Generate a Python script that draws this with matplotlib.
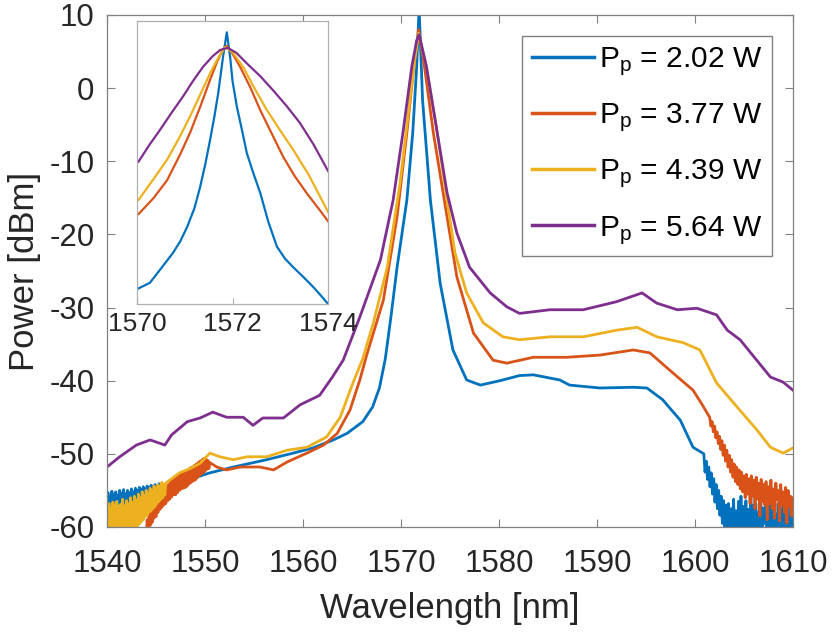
import numpy as np
import matplotlib.pyplot as plt

plt.rcParams['font.family'] = ['Liberation Sans', 'DejaVu Sans']
plt.rcParams['mathtext.fontset'] = 'custom'
plt.rcParams['mathtext.rm'] = 'Liberation Sans'
plt.rcParams['mathtext.it'] = 'Liberation Sans'
plt.rcParams['axes.unicode_minus'] = False

# colores tipo MATLAB
c_blue = '#0072BD'
c_orange = '#D95319'
c_yellow = '#EDB120'
c_purple = '#7E2F8E'

labels = ['P$_\\mathregular{p}$ = 2.02 W', 'P$_\\mathregular{p}$ = 3.77 W',
          'P$_\\mathregular{p}$ = 4.39 W', 'P$_\\mathregular{p}$ = 5.64 W']

# ---- espectro completo ----
# Pp = 2.02 W  (ruido 1540-1545.5, tramo suave, ruido 1600.9-1610)
blue_noise_l = [-56.5, -55.3, -57.6, -55.8, -57.2, -55.1, -57.8, -55.6, -56.9, -55.2,
                -57.4, -55.7, -56.8, -55.0, -57.5, -55.4, -56.6, -54.9, -57.1, -55.5,
                -56.4, -55.0, -56.9, -55.3, -56.2, -54.8, -56.7, -55.2, -56.0, -54.7,
                -56.4, -55.0, -55.8, -54.6, -56.2, -54.9, -55.6, -54.5, -55.9, -54.8,
                -55.4, -54.4, -55.7, -54.6, -55.2, -54.3, -55.4, -54.5, -55.0, -54.2,
                -55.2, -54.4, -54.9, -54.1, -55.0, -54.3]
blue_wl = [1546.1, 1548.2, 1550.5, 1552.9, 1556.3, 1559.0, 1561.0, 1563.1, 1564.5, 1566.1,
           1567.1, 1567.8, 1568.4, 1569.0, 1569.6, 1570.6, 1571.2, 1571.6, 1571.85, 1572.2,
           1573.0, 1574.0, 1575.3, 1576.7, 1578.1, 1580.1, 1582.1, 1583.5, 1586.2, 1587.2,
           1590.3, 1593.7, 1595.1, 1596.7, 1598.5, 1599.8]
blue_p = [-54.5, -53.6, -52.6, -51.8, -50.8, -49.9, -49.2, -48.1, -47.2, -45.6,
          -43.6, -41.0, -37.0, -31.0, -24.5, -15.3, -6.1, 2.9, 11.0, -1.6,
          -15.3, -26.7, -35.8, -39.9, -40.6, -40.0, -39.3, -39.2, -39.9, -40.6,
          -41.0, -40.9, -41.0, -42.6, -45.4, -49.1]
blue_noise_r = [-50.0, -52.5, -51.0, -53.5, -51.8, -54.5, -52.6, -55.5, -53.4, -56.6,
                -54.2, -57.5, -55.0, -58.4, -55.8, -59.5, -56.4, -60.8, -57.0,
                -62.0, -56.8, -61.0, -57.5, -62.5, -56.2, -60.5, -57.8, -62.0, -56.5,
                -61.5, -55.8, -62.5, -57.2, -60.8, -56.4, -62.0, -57.6, -61.2, -55.5,
                -62.5, -57.0, -60.2, -56.8, -62.0, -58.0, -61.5, -56.2, -62.8, -57.4,
                -59.5, -56.6, -62.0, -57.8, -61.0, -56.0, -62.5, -57.2, -60.0, -58.2,
                -62.0, -56.8, -61.5, -57.5, -62.8, -56.4, -60.5, -58.0, -62.0, -57.0,
                -61.5, -58.5, -62.0, -57.4]

# Pp = 3.77 W
orange_noise_l = [-62.0, -60.5, -61.5, -59.0, -60.5, -58.2, -59.8, -57.6, -59.4, -57.0, -58.8, -56.6,
                  -58.6, -56.2, -58.0, -55.8, -57.6, -55.3, -57.3, -55.0, -57.0, -54.6,
                  -56.8, -54.4, -56.4, -54.2, -56.2, -53.8, -55.9, -53.6, -55.6, -53.3,
                  -55.6, -53.2, -55.3, -52.9, -55.0, -52.7, -54.8, -52.6, -54.7, -52.4,
                  -54.6, -52.3, -54.4, -52.1, -54.1, -51.9, -53.9, -51.8, -53.7, -51.6,
                  -53.6, -51.4, -53.3, -51.2, -53.0, -51.0, -52.8, -50.8, -52.6, -50.6,
                  -52.4, -50.7, -52.1, -50.9, -52.0, -51.2]
orange_wl = [1551.2, 1552.2, 1553.6, 1555.6, 1557.0, 1558.4, 1560.4, 1562.1, 1563.5, 1564.8,
             1565.8, 1566.5, 1568.2, 1569.6, 1570.6, 1571.3, 1571.8, 1572.4, 1573.3, 1574.7,
             1575.7, 1577.4, 1579.4, 1580.8, 1583.5, 1586.9, 1590.3, 1593.7, 1595.4, 1597.8,
             1599.8, 1600.7]
orange_p = [-51.8, -52.2, -51.8, -51.8, -52.2, -51.1, -49.9, -48.8, -47.2, -44.0,
            -39.9, -36.5, -29.0, -17.6, -6.1, 2.9, 8.0, 2.9, -6.1, -17.6,
            -25.8, -33.5, -37.2, -37.6, -36.8, -36.8, -36.5, -35.8, -36.2, -39.0,
            -41.3, -43.2]
orange_noise_r = [-45.0, -46.2, -45.6, -47.0, -46.2, -47.8, -47.0, -48.6, -47.6, -49.4,
                  -48.2, -50.2, -48.8, -51.0, -49.5, -51.8, -50.2, -52.5, -50.8, -53.2,
                  -51.4, -53.8, -51.8, -54.2, -52.2,
                  -54.8, -52.5, -55.2, -53.0, -56.0, -52.8, -55.5, -53.4, -56.8, -53.0,
                  -55.8, -53.6, -57.5, -53.2, -56.2, -54.0, -58.5, -53.5, -56.5, -54.2,
                  -57.0, -53.8, -59.0, -54.5, -56.8, -53.6, -57.5, -54.8, -58.8, -54.0,
                  -56.2, -55.0, -59.2, -54.2, -57.0, -55.2, -58.0, -54.6, -59.5, -55.0,
                  -57.2, -55.8, -58.5, -56.0]

# Pp = 4.39 W
yellow_noise_l = [-57.2, -61.0, -56.8, -61.0, -57.5, -61.0, -56.6, -61.0, -57.0, -61.0,
                  -56.5, -61.0, -57.3, -61.0, -56.9, -61.0, -56.2, -61.0, -57.1, -61.0,
                  -56.4, -61.0, -56.8, -61.0, -56.0, -61.0, -56.6, -60.5, -55.8, -60.2,
                  -56.3, -60.0, -55.5, -59.6, -56.0, -59.3, -55.2, -59.0, -55.7, -58.6,
                  -55.0, -58.4, -55.4, -58.0, -54.7, -57.8, -55.1, -57.5, -54.4, -57.2,
                  -54.8, -56.8, -54.2, -56.5, -54.5, -56.2, -53.9, -56.0, -54.2, -55.6,
                  -54.0]
yellow_wl = [1547.4, 1548.5, 1549.5, 1550.5, 1551.5, 1552.9, 1554.3, 1556.3, 1558.4,
             1560.4, 1562.4, 1563.8, 1565.1, 1566.1, 1567.2, 1568.6, 1569.9, 1570.7, 1571.4,
             1571.8, 1572.6, 1573.7, 1574.7, 1575.5, 1576.7, 1578.4, 1580.4, 1582.1, 1585.2,
             1588.6, 1592.0, 1594.1, 1596.1, 1598.8, 1600.5, 1602.2, 1604.3, 1606.3, 1607.7,
             1609.0, 1610.0]
yellow_p = [-52.6, -52.0, -51.3, -49.9, -50.4, -50.8, -50.4, -50.4, -49.5,
            -49.1, -47.7, -45.0, -40.3, -37.0, -32.0, -24.5, -13.0, -4.0, 3.8,
            7.5, 2.9, -6.1, -15.3, -22.5, -28.0, -32.1, -34.0, -34.4, -34.0,
            -34.0, -33.1, -32.7, -34.0, -34.8, -35.8, -40.3, -43.6, -46.7, -49.1,
            -49.9, -49.2]

# Pp = 5.64 W
purple_wl = [1540.0, 1541.3, 1543.0, 1544.4, 1545.9, 1546.6, 1548.2, 1549.5, 1550.8, 1552.2,
             1553.9, 1554.9, 1555.9, 1558.0, 1559.7, 1561.7, 1563.0, 1564.1, 1565.8, 1567.9,
             1569.2, 1570.2, 1571.1, 1571.6, 1571.85, 1572.6, 1573.7, 1574.7, 1575.7, 1577.0,
             1579.1, 1580.8, 1582.1, 1585.2, 1588.6, 1592.0, 1594.6, 1596.1, 1598.2, 1600.2,
             1602.2, 1603.3, 1604.6, 1606.3, 1607.7, 1609.0, 1610.0]
purple_p = [-51.8, -50.4, -48.8, -48.1, -48.8, -47.4, -45.6, -45.1, -44.3, -45.0,
            -45.0, -46.1, -45.1, -45.1, -43.3, -42.0, -39.5, -37.2, -31.3, -23.5,
            -15.3, -6.1, 2.9, 6.5, 7.3, 2.9, -6.1, -14.3, -19.8, -24.5,
            -28.0, -29.9, -30.8, -30.3, -30.3, -29.2, -28.0, -29.4, -30.3, -30.1,
            -31.0, -33.1, -34.4, -37.2, -39.5, -40.2, -41.3]

# ---- detalle del pico (recuadro) ----
in_blue_wl = [1570.03, 1570.27, 1570.5, 1570.75, 1570.9, 1571.05, 1571.2, 1571.32, 1571.43,
              1571.53, 1571.62, 1571.7, 1571.8, 1571.88, 1571.95, 1572.0, 1572.09, 1572.2,
              1572.3, 1572.45, 1572.58, 1572.75, 1572.93, 1573.1, 1573.27, 1573.5, 1573.69,
              1573.85, 1574.0]
in_blue_p = [-27.8, -27.0, -25.0, -22.8, -21.2, -19.1, -16.5, -13.5, -10.2,
             -6.8, -3.5, -0.2, 4.9, 8.4, 4.9, 1.5, -2.1, -5.5,
             -8.7, -11.8, -14.3, -18.4, -21.9, -23.6, -24.8, -26.3, -27.6,
             -28.8, -30.0]
in_orange_wl = [1570.03, 1570.35, 1570.63, 1570.9, 1571.11, 1571.33, 1571.53, 1571.68, 1571.8,
                1571.88, 1571.98, 1572.16, 1572.38, 1572.58, 1572.82, 1573.06, 1573.3, 1573.56,
                1573.8, 1574.0]
in_orange_p = [-17.3, -15.0, -12.5, -8.9, -5.8, -2.0, 1.7, 4.3, 6.0,
               6.5, 5.6, 3.5, 0.5, -2.6, -5.9, -9.2, -11.9, -14.4,
               -16.5, -18.3]
in_yellow_wl = [1570.03, 1570.35, 1570.63, 1570.9, 1571.11, 1571.33, 1571.53, 1571.7, 1571.85,
                1572.0, 1572.22, 1572.45, 1572.72, 1573.0, 1573.27, 1573.6, 1574.0]
in_yellow_p = [-15.3, -12.3, -9.6, -6.3, -3.5, -0.3, 2.6, 4.8, 6.3,
               5.6, 3.5, 0.6, -2.6, -5.5, -8.2, -11.8, -17.0]
in_purple_wl = [1570.03, 1570.25, 1570.48, 1570.72, 1570.96, 1571.17, 1571.38, 1571.58, 1571.74,
                1571.9, 1572.08, 1572.3, 1572.58, 1572.85, 1573.13, 1573.41, 1573.7, 1574.0]
in_purple_p = [-9.9, -7.6, -5.4, -3.0, -0.7, 1.5, 3.5, 5.0, 5.9,
               6.2, 5.5, 4.0, 2.2, 0.2, -2.0, -4.4, -7.5, -11.2]

# armar series completas
bx = np.concatenate([np.linspace(1540, 1545.5, len(blue_noise_l)), blue_wl,
                     np.linspace(1600.9, 1610, len(blue_noise_r))])
by = np.concatenate([blue_noise_l, blue_p, blue_noise_r])
ox = np.concatenate([np.linspace(1543.8, 1550.5, len(orange_noise_l)), orange_wl,
                     np.linspace(1601.5, 1610, len(orange_noise_r))])
oy = np.concatenate([orange_noise_l, orange_p, orange_noise_r])
yx = np.concatenate([np.linspace(1540, 1546, len(yellow_noise_l)), yellow_wl])
yy = np.concatenate([yellow_noise_l, yellow_p])

fig = plt.figure(figsize=(8.32, 6.34), dpi=100)
ax = fig.add_axes([0.1286, 0.1688, 0.8245, 0.8076])

lw = 2.0
ax.plot(bx, by, color=c_blue, lw=lw, label=labels[0])
ax.plot(ox, oy, color=c_orange, lw=lw, label=labels[1])
ax.plot(yx, yy, color=c_yellow, lw=lw, label=labels[2])
ax.plot(purple_wl, purple_p, color=c_purple, lw=lw, label=labels[3])

ax.set_xlim(1540, 1610)
ax.set_ylim(-60, 10)
ax.set_xticks(np.arange(1540, 1611, 10))
ax.set_yticks(np.arange(-60, 11, 10))
ax.tick_params(direction='in', top=True, right=True, length=6, width=0.8,
               color='#808080', labelsize=22.5)
ax.tick_params(axis='x', pad=16)
ax.tick_params(axis='y', pad=9)
for s in ax.spines.values():
    s.set_color('#808080')
    s.set_linewidth(0.9)
ax.set_xlabel('Wavelength [nm]', fontsize=25, labelpad=9, color='#262626')
ax.set_ylabel('Power [dBm]', fontsize=25, labelpad=6, color='#262626')
for t in ax.get_xticklabels() + ax.get_yticklabels():
    t.set_color('#262626')

leg = ax.legend(loc='upper right', bbox_to_anchor=(0.969, 0.959), borderaxespad=0,
                fontsize=21.5, handlelength=2.1, handletextpad=0.15, labelspacing=0.78,
                fancybox=False, framealpha=1, edgecolor='#808080', borderpad=0.32)
leg.get_frame().set_linewidth(1.0)
for h in leg.get_lines():
    h.set_linewidth(2.5)

# recuadro
axi = fig.add_axes([0.1647, 0.5205, 0.2296, 0.4464])
axi.plot(in_blue_wl, in_blue_p, color=c_blue, lw=1.6)
axi.plot(in_orange_wl, in_orange_p, color=c_orange, lw=1.6)
axi.plot(in_yellow_wl, in_yellow_p, color=c_yellow, lw=1.6)
axi.plot(in_purple_wl, in_purple_p, color=c_purple, lw=1.6)
axi.set_xlim(1570, 1574)
axi.set_ylim(-30, 10)
axi.set_xticks([1570, 1572, 1574])
axi.set_yticks([])
axi.tick_params(direction='in', length=4, color='#b0b0b0', labelsize=19, pad=6,
                labelcolor='#262626')
for s in axi.spines.values():
    s.set_color('#b0b0b0')
    s.set_linewidth(0.9)

fig.savefig('out.png', dpi=100)
